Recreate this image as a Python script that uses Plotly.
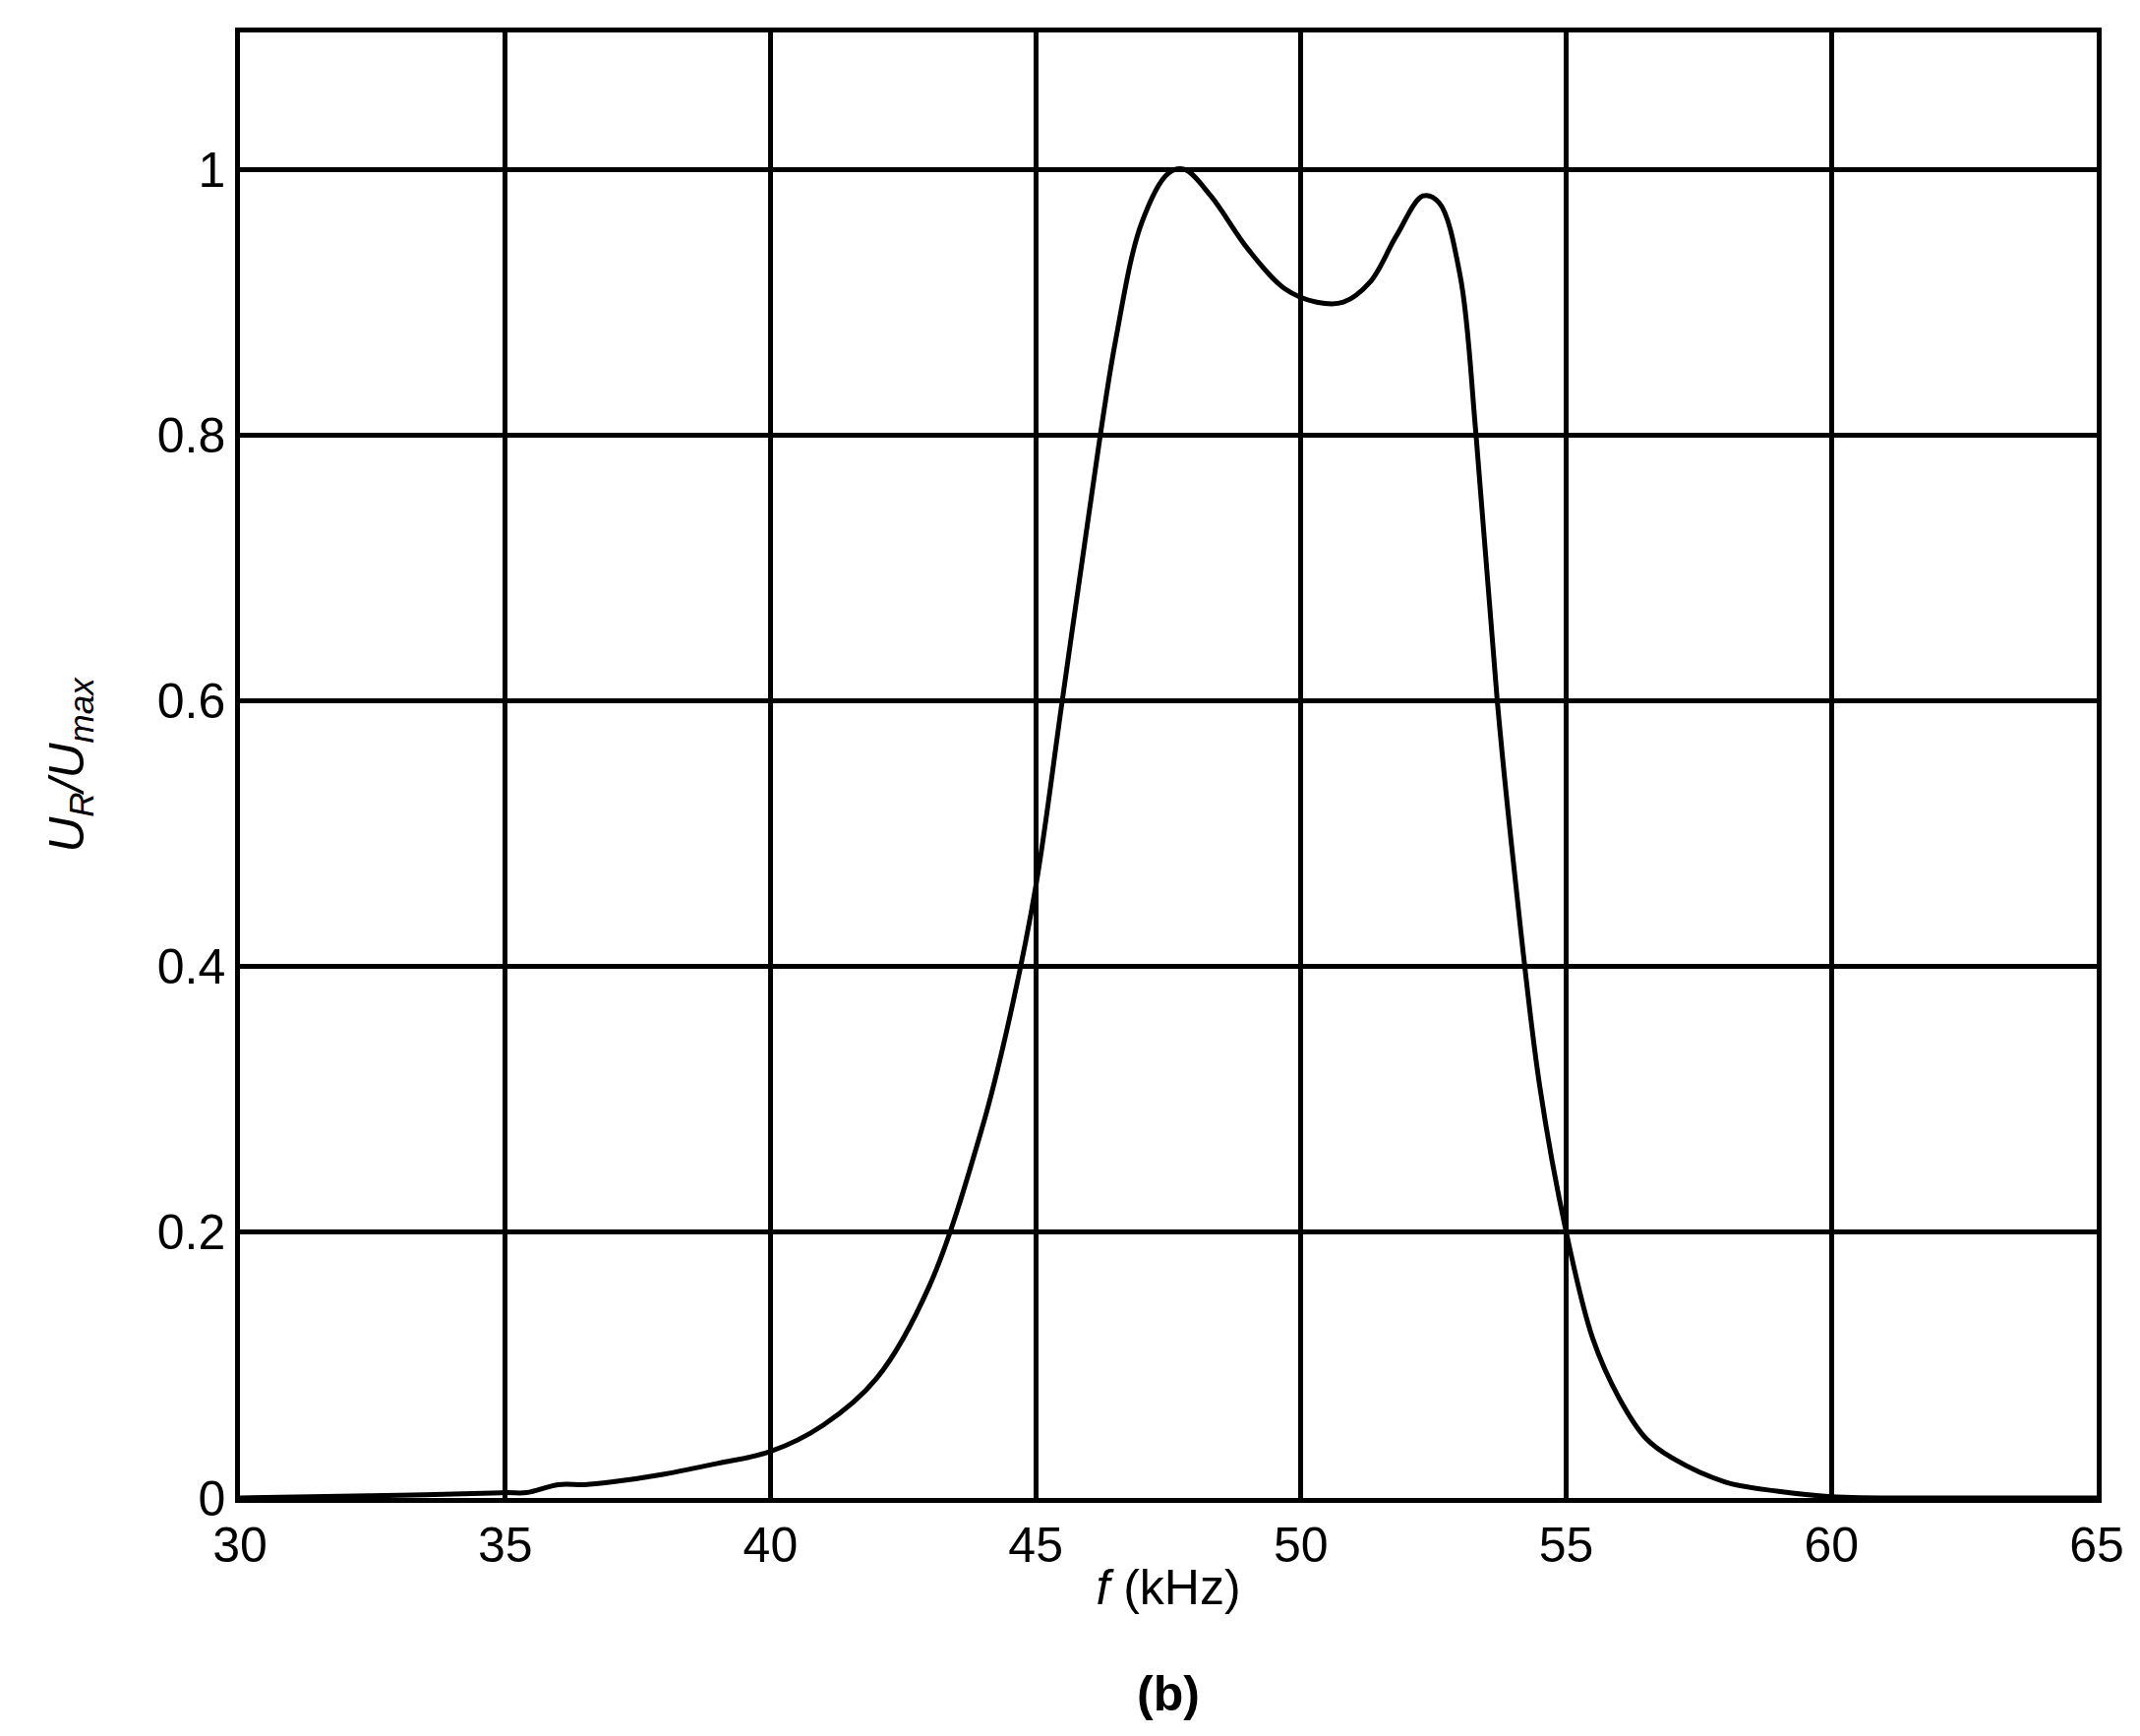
import plotly.graph_objects as go

freq = [30, 33, 35, 35.4, 36, 36.5, 37, 38, 39, 40, 41, 42, 43, 44, 44.5, 45, 45.5, 46, 46.5, 47, 47.5, 47.8,
        48.3, 49, 49.7, 50.3, 50.8, 51.3, 51.8, 52.3, 52.6, 53, 53.3, 53.7, 54, 54.5, 55, 55.5, 56, 56.5,
        57, 58, 59, 60, 62, 65]
ur = [0.0, 0.002, 0.004, 0.004, 0.01, 0.01, 0.012, 0.018, 0.026, 0.035, 0.055, 0.09, 0.16, 0.28, 0.36, 0.46,
      0.6, 0.74, 0.87, 0.96, 0.997, 1.0, 0.98, 0.94, 0.91, 0.9, 0.9, 0.915, 0.95, 0.98, 0.975, 0.92, 0.8,
      0.6, 0.48, 0.31, 0.2, 0.12, 0.075, 0.045, 0.03, 0.012, 0.005, 0.001, 0.0, 0.0]
xticks = [30, 35, 40, 45, 50, 55, 60, 65]
yticks = [0, 0.2, 0.4, 0.6, 0.8, 1]
ytick_text = ["0", "0.2", "0.4", "0.6", "0.8", "1"]

fig = go.Figure(go.Scatter(x=freq, y=ur, mode="lines", line=dict(color="black", width=5, shape="spline", smoothing=1.0)))
font = dict(family="Liberation Sans, Arial", size=50, color="black")
fig.update_layout(
    width=2176, height=1765, margin=dict(l=236, r=52, t=25, b=250),
    paper_bgcolor="white", plot_bgcolor="white", showlegend=False, font=font,
    xaxis=dict(range=[30, 65], tickvals=xticks, showgrid=True, gridcolor="black", gridwidth=4.5,
               showline=True, linecolor="black", linewidth=4.5, mirror=True, ticks="", zeroline=False,
               title=dict(text="<i>f</i> (kHz)", font=font, standoff=0)),
    yaxis=dict(range=[0, 1.103], tickvals=yticks, ticktext=ytick_text, showgrid=True, gridcolor="black",
               gridwidth=4.5, showline=True, linecolor="black", linewidth=4.5, mirror=True, ticks="", zeroline=False,
               title=dict(text="<i>U<sub>R</sub>/U<sub>max</sub></i>", font=font, standoff=60)),
    annotations=[dict(text="<b>(b)</b>", x=0.5, y=-(1714 - 1515) / (1765 - 25 - 250), yanchor="middle",
                      xref="paper", yref="paper", showarrow=False, font=font)],
)
fig.write_html("out.html")
